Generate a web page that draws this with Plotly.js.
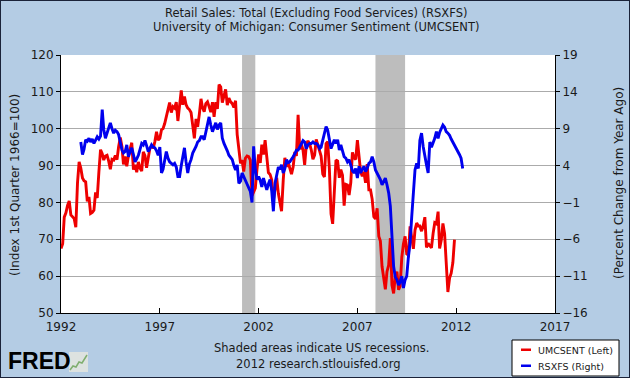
<!DOCTYPE html>
<html>
<head>
<meta charset="utf-8">
<script src="https://cdn.plot.ly/plotly-3.0.1.min.js"></script>
<style>
  html, body { margin: 0; padding: 0; background: #b4cce4; }
  #wrap { position: relative; width: 630px; height: 378px; }
  #chart { width: 630px; height: 378px; }
  #frame { position: absolute; left: 0; top: 0; width: 630px; height: 378px; box-sizing: border-box; border: 1px solid #1a2238; pointer-events: none; }
</style>
</head>
<body>
<div id="wrap"><div id="chart"></div><div id="frame"></div></div>
<script>
// University of Michigan: Consumer Sentiment (UMCSENT), monthly, starting 1992-01
const umcsentStart = [1992, 1];
const umcsent = [
  67.5, 68.8, 76.0, 77.2, 79.2, 80.4, 76.6, 76.1, 75.6, 73.3, 85.3, 91.0,
  89.3, 86.6, 85.9, 85.6, 80.3, 81.5, 77.0, 77.3, 77.9, 82.7, 81.2, 88.2,
  94.3, 93.2, 91.5, 92.6, 92.8, 91.2, 89.0, 91.7, 91.5, 92.7, 91.6, 95.1,
  97.6, 95.1, 90.3, 92.5, 89.8, 92.7, 94.4, 96.2, 88.9, 90.2, 88.2, 91.0,
  89.3, 88.5, 93.7, 92.7, 89.4, 92.4, 94.7, 95.3, 94.7, 96.5, 99.2, 96.9,
  97.4, 99.7, 100.0, 101.4, 103.2, 104.5, 107.1, 104.4, 106.0, 105.6, 107.2, 102.1,
  106.6, 110.4, 106.5, 108.7, 106.5, 105.6, 105.2, 104.4, 100.9, 97.4, 102.7, 100.5,
  103.9, 108.1, 105.7, 104.6, 106.8, 107.3, 106.0, 104.5, 107.2, 103.2, 107.2, 105.4,
  112.0, 111.3, 107.1, 109.2, 110.7, 106.4, 108.3, 107.3, 106.8, 105.8, 107.6, 98.4,
  94.7, 90.6, 91.5, 88.4, 92.0, 92.6, 92.4, 91.5, 81.8, 82.7, 83.9, 88.8,
  93.0, 90.7, 95.7, 93.0, 96.9, 92.4, 88.1, 87.6, 86.1, 80.6, 84.2, 86.7,
  82.4, 79.9, 77.6, 86.0, 92.1, 89.7, 90.9, 89.3, 87.7, 89.6, 93.7, 92.6,
  103.8, 94.4, 95.8, 94.2, 90.2, 95.6, 96.7, 95.9, 94.2, 91.7, 92.8, 97.1,
  95.5, 94.1, 92.6, 87.7, 86.9, 96.0, 96.5, 89.1, 76.9, 74.2, 81.6, 91.5,
  91.2, 86.7, 88.9, 87.4, 79.1, 84.9, 84.7, 82.0, 85.4, 93.6, 92.1, 91.7,
  96.9, 91.3, 88.4, 87.1, 88.3, 85.3, 90.4, 83.4, 83.4, 80.9, 76.1, 75.5,
  78.4, 70.8, 69.5, 62.6, 59.8, 56.4, 61.2, 63.0, 70.3, 57.6, 55.3, 60.1,
  61.2, 56.3, 57.3, 65.1, 68.7, 70.8, 66.0, 65.7, 73.5, 70.6, 67.4, 72.5,
  74.4, 73.6, 73.6, 72.2, 73.6, 76.0, 67.8, 68.9, 68.2, 67.7, 71.6, 74.5,
  74.2, 77.5, 67.5, 69.8, 74.3, 71.5, 63.7, 55.7, 59.5, 60.8, 63.7, 69.9
];

// Retail Sales excl. food services (RSXFS), percent change from year ago, monthly, starting 1993-01
const rsxfsStart = [1993, 1];
const rsxfs = [
  7.2, 5.5, 6.2, 7.5, 7.3, 7.7, 7.2, 7.6, 7.0, 7.4, 7.9, 7.6,
  8.0, 11.6, 8.9, 7.7, 8.5, 9.3, 9.8, 9.0, 8.4, 8.8, 8.6, 8.2,
  7.0, 6.1, 5.7, 5.9, 6.8, 5.2, 5.9, 6.4, 5.5, 4.5, 4.9, 5.4,
  6.2, 7.0, 6.8, 7.4, 6.7, 5.9, 6.3, 6.8, 6.5, 6.4, 6.0, 5.4,
  6.5, 3.0, 3.5, 4.8, 5.9, 5.0, 4.5, 4.3, 4.1, 4.3, 3.8, 2.5,
  2.5, 4.0, 5.2, 6.4, 4.5, 3.0, 4.2, 4.8, 5.7, 6.1, 6.6, 7.2,
  7.4, 7.9, 7.9, 7.5, 8.5, 9.3, 10.6, 9.5, 8.6, 9.2, 9.8, 8.9,
  9.5, 9.8, 7.7, 7.0, 6.6, 6.0, 5.4, 5.0, 4.8, 4.0, 3.4, 4.1,
  1.6, 1.9, 3.0, 2.5, 2.1, 1.5, 1.0, 0.5, -1.0, 6.6, 3.4, 2.1,
  2.5, 2.0, 1.1, 2.3, 1.5, 0.7, 1.5, 2.1, 0.5, -2.2, 1.6, 2.8,
  3.8, 3.5, 4.1, 3.0, 3.6, 4.8, 4.4, 4.5, 4.8, 5.2, 5.6, 6.1,
  6.1, 6.5, 7.0, 7.4, 7.2, 6.3, 6.8, 7.0, 7.0, 7.2, 7.0, 7.0,
  6.8, 6.3, 6.5, 7.5, 8.4, 9.3, 8.8, 7.5, 6.3, 6.9, 7.5, 7.0,
  7.5, 6.1, 6.8, 6.0, 5.2, 5.0, 4.5, 4.8, 3.9, 3.3, 3.0, 3.6,
  2.3, 3.9, 3.0, 3.5, 3.9, 3.2, 3.6, 4.3, 4.5, 5.2, 4.5, 3.4,
  3.0, 2.6, 2.1, 1.4, 1.9, 2.3, 1.4, 0.3, -1.5, -5.0, -9.7, -11.1,
  -11.5, -12.2, -11.8, -11.0, -12.6, -11.5, -11.0, -8.4, -6.5, -3.0, 0.5, 3.4,
  4.3, 3.6, 7.4, 8.4, 6.6, 5.0, 4.1, 3.0, 7.2, 6.5, 7.0, 7.7,
  8.6, 7.7, 8.5, 9.1, 9.5, 9.2, 8.6, 8.4, 8.1, 7.6, 7.2, 6.8,
  6.4, 5.9, 5.5, 5.0, 3.6
];

// NBER recessions in the window
const recessions = [
  ['2001-03-01', '2001-11-01'],
  ['2007-12-01', '2009-06-01']
];

const xTickYears = [1992, 1997, 2002, 2007, 2012, 2017];

function monthDates(start, n) {
  const out = [];
  let y = start[0], m = start[1];
  for (let i = 0; i < n; i++) {
    out.push(y + '-' + String(m).padStart(2, '0') + '-01');
    m++; if (m > 12) { m = 1; y++; }
  }
  return out;
}

const FONT = 'DejaVu Sans, Verdana, sans-serif';
const TXT = '#1a1a1a';
const RED = '#ee0000', BLUE = '#0000ee';

const traces = [
  {
    x: monthDates(umcsentStart, umcsent.length), y: umcsent,
    type: 'scatter', mode: 'lines', name: 'UMCSENT (Left)',
    line: { color: RED, width: 2.9 }, yaxis: 'y'
  },
  {
    x: monthDates(rsxfsStart, rsxfs.length), y: rsxfs,
    type: 'scatter', mode: 'lines', name: 'RSXFS (Right)',
    line: { color: BLUE, width: 2.9 }, yaxis: 'y2'
  }
];

// plot area pixels: left 61, right 555, top 55, bottom 313
const L = 61, R = 555, T = 55, B = 313;
const px = v => (v - L) / (R - L);
const py = v => (B - v) / (B - T);

const shapes = recessions.map(r => ({
  type: 'rect', xref: 'x', yref: 'paper', x0: r[0], x1: r[1], y0: 0, y1: 1,
  fillcolor: '#bdbdbd', line: { width: 0 }, layer: 'between'
}));

// legend box (drawn manually)
shapes.push({ type: 'rect', xref: 'paper', yref: 'paper', x0: px(512), x1: px(619), y0: py(376), y1: py(340),
  fillcolor: '#ffffff', line: { color: '#000000', width: 1 } });
shapes.push({ type: 'rect', xref: 'paper', yref: 'paper', x0: px(521), x1: px(531), y0: py(351), y1: py(348.5),
  fillcolor: RED, line: { width: 0 } });
shapes.push({ type: 'rect', xref: 'paper', yref: 'paper', x0: px(521), x1: px(531), y0: py(367), y1: py(364.5),
  fillcolor: BLUE, line: { width: 0 } });

// FRED logo icon
shapes.push({ type: 'rect', xref: 'paper', yref: 'paper', x0: px(69), x1: px(88), y0: py(372), y1: py(352),
  fillcolor: '#dde2e0', line: { width: 0 } });
shapes.push({ type: 'path', xref: 'paper', yref: 'paper',
  path: 'M ' + px(70) + ' ' + py(370) + ' L ' + px(73) + ' ' + py(366) + ' L ' + px(76) + ' ' + py(367) +
        ' L ' + px(79) + ' ' + py(362) + ' L ' + px(82) + ' ' + py(363) + ' L ' + px(87) + ' ' + py(355),
  line: { color: '#7fae6f', width: 1.5 } });

function ann(text, x, y, size, extra) {
  return Object.assign({ text: text, xref: 'paper', yref: 'paper', x: px(x), y: py(y),
    xanchor: 'center', yanchor: 'middle', showarrow: false,
    font: { family: FONT, size: size, color: TXT } }, extra || {});
}

const annotations = [
  ann('Retail Sales: Total (Excluding Food Services) (RSXFS)', 316, 13, 11.5),
  ann('University of Michigan: Consumer Sentiment (UMCSENT)', 316, 27, 11.5),
  ann('(Index 1st Quarter 1966=100)', 15, 185, 12, { textangle: -90 }),
  ann('(Percent Change from Year Ago)', 619, 183, 12, { textangle: -90 }),
  ann('Shaded areas indicate US recessions.', 321, 348, 11.5),
  ann('2012 research.stlouisfed.org', 318, 364, 11.5),
  ann('UMCSENT (Left)', 536, 350, 9.5, { xanchor: 'left' }),
  ann('RSXFS (Right)', 536, 366, 9.5, { xanchor: 'left' }),
  ann('<b>FRED</b>', 6, 361, 23, { xanchor: 'left',
    font: { family: 'Liberation Sans, Arial, sans-serif', size: 23, color: '#000000' } })
];

const layout = {
  width: 630, height: 378,
  margin: { l: L, r: 630 - R, t: T, b: 378 - B, pad: 0 },
  paper_bgcolor: '#b4cce4', plot_bgcolor: '#ffffff',
  showlegend: false,
  font: { family: FONT, size: 12, color: TXT },
  xaxis: {
    type: 'date', range: ['1992-01-01', '2017-01-01'],
    tickvals: xTickYears.map(y => y + '-01-01'), ticktext: xTickYears.map(String),
    ticks: 'inside', ticklen: 5, tickcolor: '#000', tickwidth: 1,
    ticklabelstandoff: 3,
    showline: true, linecolor: '#000', linewidth: 1, showgrid: false, zeroline: false,
    tickfont: { family: FONT, size: 12, color: TXT }
  },
  yaxis: {
    range: [50, 120], tick0: 50, dtick: 10,
    ticks: 'outside', ticklen: 4, tickcolor: '#000',
    showline: true, linecolor: '#000', linewidth: 1,
    showgrid: true, gridcolor: '#ababab', gridwidth: 1, zeroline: false,
    tickfont: { family: FONT, size: 12, color: TXT }
  },
  yaxis2: {
    overlaying: 'y', side: 'right', range: [-16, 19], tick0: -16, dtick: 5,
    ticks: 'outside', ticklen: 4, tickcolor: '#000',
    showline: true, linecolor: '#000', linewidth: 1,
    showgrid: false, zeroline: false,
    tickfont: { family: FONT, size: 12, color: TXT }
  },
  shapes: shapes,
  annotations: annotations
};

Plotly.newPlot('chart', traces, layout, { staticPlot: true, displayModeBar: false });
</script>
</body>
</html>
